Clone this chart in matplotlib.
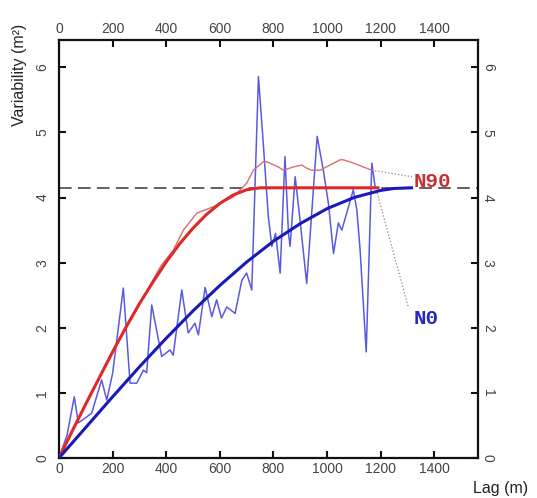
import matplotlib
matplotlib.use("Agg")
import matplotlib.pyplot as plt
from matplotlib.transforms import ScaledTranslation

# ---- data ----
n0_lag = [0, 30, 57, 72, 100, 122, 159, 178, 200, 240, 265, 290, 315, 327, 346, 383, 414, 426,
          458, 482, 507, 520, 545, 570, 588, 606, 626, 657, 682, 700, 719, 744, 762, 781, 794,
          808, 825, 843, 856, 862, 881, 899, 924, 963, 986, 1005, 1024, 1042, 1055, 1098, 1111,
          1123, 1146, 1167, 1179]
n0_val = [0.0, 0.35, 0.94, 0.54, 0.62, 0.69, 1.20, 0.89, 1.30, 2.61, 1.15, 1.15, 1.35, 1.31, 2.35,
          1.56, 1.66, 1.58, 2.58, 1.92, 2.07, 1.89, 2.62, 2.17, 2.43, 2.15, 2.32, 2.22, 2.73, 2.84,
          2.58, 5.86, 4.83, 3.70, 3.25, 3.45, 2.84, 4.63, 3.45, 3.25, 4.32, 3.66, 2.68, 4.94, 4.42,
          3.91, 3.14, 3.61, 3.50, 4.12, 3.81, 3.21, 1.63, 4.53, 4.17]

n90_lag = [0, 100, 200, 300, 380, 426, 464, 514, 576, 650, 700, 725, 762, 775, 818, 837, 874,
           906, 924, 943, 974, 1049, 1061, 1098, 1167]
n90_val = [0.0, 0.82, 1.62, 2.36, 2.95, 3.19, 3.50, 3.76, 3.86, 4.01, 4.22, 4.42, 4.55, 4.55,
           4.47, 4.42, 4.47, 4.50, 4.45, 4.42, 4.42, 4.58, 4.58, 4.53, 4.42]

n0_model_lag = [0, 100, 200, 300, 400, 500, 600, 700, 800, 900, 1000, 1100, 1200, 1250, 1315]
n0_model_val = [0.0, 0.47, 0.94, 1.40, 1.84, 2.26, 2.65, 3.01, 3.33, 3.60, 3.83, 4.00, 4.11, 4.14, 4.15]

n90_model_lag = [0, 50, 100, 150, 200, 250, 300, 350, 400, 450, 500, 550, 600, 650, 700, 750, 1190]
n90_model_val = [0.0, 0.42, 0.83, 1.23, 1.63, 2.01, 2.37, 2.70, 3.01, 3.29, 3.53, 3.74, 3.91, 4.04, 4.12, 4.15, 4.15]

sill = 4.15
x_ticks = [0, 200, 400, 600, 800, 1000, 1200, 1400]
y_ticks = [0, 1, 2, 3, 4, 5, 6]

n90_link_lag = [1167, 1317]
n90_link_val = [4.42, 4.32]
n0_link_lag = [1187, 1302]
n0_link_val = [4.07, 2.33]

# ---- figure ----
plt.rcParams['font.family'] = ['Liberation Sans', 'DejaVu Sans']
fig = plt.figure(figsize=(5.37, 4.98), dpi=100)
ax = fig.add_axes([59/537, 1 - 458/498, (478 - 59)/537, (458 - 40)/498])
ax.set_xlim(0, 1563)
ax.set_ylim(0, 6.42)

ax.axhline(sill, color='#555555', lw=1.3, ls=(0, (7, 3.5)), zorder=1)

ax.plot(n0_lag, n0_val, color='#5a5ae0', lw=1.1, zorder=2)
ax.plot(n90_lag, n90_val, color='#d47070', lw=1.0, zorder=2)
ax.plot(n90_model_lag, n90_model_val, color='#e02828', lw=2.2, zorder=3)
ax.plot(n0_model_lag, n0_model_val, color='#1a1ab8', lw=2.2, zorder=4)

ax.plot(n90_link_lag, n90_link_val, color='#888888', lw=0.9, ls=':', zorder=2)
ax.plot(n0_link_lag, n0_link_val, color='#888888', lw=0.9, ls=':', zorder=2)

ax.text(1321, 4.25, 'N90', color='#c83030', fontsize=15, fontweight='bold',
        family=['Liberation Mono', 'DejaVu Sans Mono'], ha='left', va='center')
ax.text(1321, 2.15, 'N0', color='#2828c0', fontsize=15, fontweight='bold',
        family=['Liberation Mono', 'DejaVu Sans Mono'], ha='left', va='center')

ax.set_xticks(x_ticks)
ax.set_yticks(y_ticks)
ax.set_xticklabels([str(v) for v in x_ticks])
ax.set_yticklabels([str(v) for v in y_ticks])

for s in ax.spines.values():
    s.set_linewidth(1.6)
    s.set_color('#111111')

ax.tick_params(direction='in', length=5, width=1.5, colors='#111111', labelcolor='#444444',
               labelsize=10)
ax.tick_params(axis='x', top=True, labeltop=True, bottom=True, labelbottom=True, pad=3)
ax.tick_params(axis='y', left=True, right=True, labelleft=True, labelright=True, pad=7)
shift = ScaledTranslation(-5/72, 0, fig.dpi_scale_trans)
for t in ax.yaxis.get_major_ticks():
    t.label1.set_rotation(90)
    t.label2.set_rotation(-90)
    t.label1.set_va('center')
    t.label2.set_va('center')
    t.label2.set_transform(t.label2.get_transform() + shift)

fig.text(20/537, 1 - 75/498, 'Variability (m²)', rotation=90, ha='center', va='center',
         fontsize=11.5, color='#222222')
fig.text(501/537, 1 - 488/498, 'Lag (m)', ha='center', va='center', fontsize=11.5,
         color='#222222')

fig.savefig('out.png', dpi=100)
